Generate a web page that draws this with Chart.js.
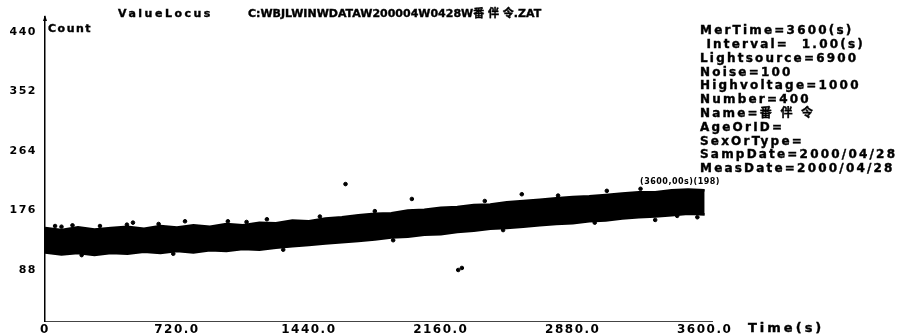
<!DOCTYPE html>
<html><head><meta charset="utf-8">
<script src="https://cdn.jsdelivr.net/npm/chart.js@4/dist/chart.umd.min.js"></script>
<style>html,body{margin:0;padding:0;background:#fff;overflow:hidden}#wrap{width:898px;height:336px;position:relative}</style>
</head><body><div id="wrap"><canvas id="c" width="898" height="336"></canvas></div>
<script>
// ---- data ----
const times = [0,90,180,270,360,450,540,630,720,810,900,990,1080,1170,1260,1350,1440,1530,1620,1710,1800,1890,1980,2070,2160,2250,2340,2430,2520,2610,2700,2790,2880,2970,3060,3150,3240,3330,3420,3510,3600];
const upperCount = [150,147,151,148,150,152,149,153,151,154,152,156,154,158,157,161,160,164,166,169,171,172,176,177,180,181,184,185,188,190,192,194,196,197,199,201,203,203,206,207,206];
const lowerCount = [114,111,113,110,113,112,115,113,116,114,117,116,119,118,121,123,125,127,129,131,133,136,137,140,141,144,146,149,150,152,154,156,157,160,161,164,166,167,169,171,170];
const outlierTimes = [55,90,150,300,447,480,620,764,998,1100,1211,1500,1800,2002,2002,2400,2602,2800,3066,3250,2255,2275,1640,3330,3560,200,700,1300,1900,2500,3000,3450];
const outlierCounts = [153,152,154,153,155,158,156,160,160,159,163,167,175,193,174,190,200,198,205,208,88,91,215,162,166,110,112,118,132,147,158,168];
const xTicks = [0,720,1440,2160,2880,3600];
const yTicks = [88,176,264,352,440];
const titleLeft = "ValueLocus";
const titleRight = "C:WBJLWINWDATAW200004W0428W番 伴 令.ZAT";
const infoLines = ["MerTime=3600(s)"," Interval=  1.00(s)","Lightsource=6900","Noise=100","Highvoltage=1000","Number=400","Name=番 伴 令","AgeOrID=","SexOrType=","SampDate=2000/04/28","MeasDate=2000/04/28"];
const endNote = "(3600,00s)(198)";

const FONT = "'DejaVu Sans','Noto Sans CJK SC',sans-serif";
const toXY = (xs, ys) => xs.map((x, i) => ({x, y: ys[i]}));

function boldText(ctx, t, x, y) {
  ctx.fillText(t, x, y);
  ctx.strokeText(t, x, y);
}

const textPlugin = {
  id: 'texts',
  beforeDraw(chart) { chart.ctx.letterSpacing = '1.5px'; },
  afterDraw(chart) {
    const ctx = chart.ctx, xs = chart.scales.x, ys = chart.scales.y;
    ctx.save();
    ctx.fillStyle = '#000';
    ctx.strokeStyle = '#000';
    ctx.lineWidth = 0.4;
    ctx.textBaseline = 'middle';
    ctx.textAlign = 'left';
    ctx.font = 'bold 11px ' + FONT; ctx.letterSpacing = '2.5px';
    boldText(ctx, titleLeft, 118, 14);
    ctx.font = 'bold 11px ' + FONT; ctx.letterSpacing = '0px';
    boldText(ctx, titleRight, 248, 14);
    ctx.font = 'bold 11px ' + FONT; ctx.letterSpacing = '1.5px';
    boldText(ctx, 'Count', 48, 29);
    ctx.font = 'bold 12px ' + FONT; ctx.letterSpacing = '2.2px';
    infoLines.forEach((t, i) => boldText(ctx, t, 700, 31 + i * 13.8));
    ctx.font = 'bold 13px ' + FONT; ctx.letterSpacing = '3px';
    boldText(ctx, 'Time(s)', 748, 329);
    ctx.font = 'bold 8px ' + FONT; ctx.letterSpacing = '0.5px';
    ctx.fillText(endNote, 640, 182);
    // arrow at top of y axis
    const ax = xs.left;
    ctx.beginPath();
    ctx.moveTo(ax, ys.top - 2); ctx.lineTo(ax - 2, ys.top + 4); ctx.lineTo(ax + 2, ys.top + 4); ctx.closePath();
    ctx.fill();
    ctx.restore();
  }
};

new Chart(document.getElementById('c'), {
  type: 'line',
  data: {
    datasets: [
      { data: toXY(times, lowerCount), borderColor: '#000', borderWidth: 2.5, pointRadius: 0, fill: false, tension: 0 },
      { data: toXY(times, upperCount), borderColor: '#000', borderWidth: 2.5, pointRadius: 0, fill: '-1', backgroundColor: '#000', tension: 0 },
      { type: 'scatter', data: toXY(outlierTimes, outlierCounts), backgroundColor: '#000', borderColor: '#000', pointRadius: 1.8, showLine: false }
    ]
  },
  options: {
    responsive: false, animation: false, devicePixelRatio: 1,
    layout: { padding: { left: 0, top: 17, right: 186, bottom: 0 } },
    plugins: { legend: { display: false }, tooltip: { enabled: false }, title: { display: false } },
    scales: {
      x: {
        type: 'linear', min: 0, max: 3640,
        afterBuildTicks: a => { a.ticks = xTicks.map(v => ({ value: v })); },
        afterFit: s => { s.height = 13; },
        grid: { display: false, drawTicks: false, tickLength: 0 },
        border: { display: true, color: '#444', width: 1, dash: [3, 1] },
        ticks: { color: '#000', font: { family: FONT, size: 12, weight: 'bold' }, padding: 1, maxRotation: 0, autoSkip: false,
                 callback: v => v === 0 ? '0' : Number(v).toFixed(1) }
      },
      y: {
        type: 'linear', min: 12, max: 462,
        afterBuildTicks: a => { a.ticks = yTicks.map(v => ({ value: v })); },
        afterFit: s => { s.width = 45; },
        grid: { display: false, drawTicks: false, tickLength: 0 },
        border: { display: true, color: '#000', width: 1.5 },
        ticks: { color: '#000', font: { family: FONT, size: 11, weight: 'bold' }, padding: 8, autoSkip: false }
      }
    }
  },
  plugins: [textPlugin]
});
</script></body></html>
